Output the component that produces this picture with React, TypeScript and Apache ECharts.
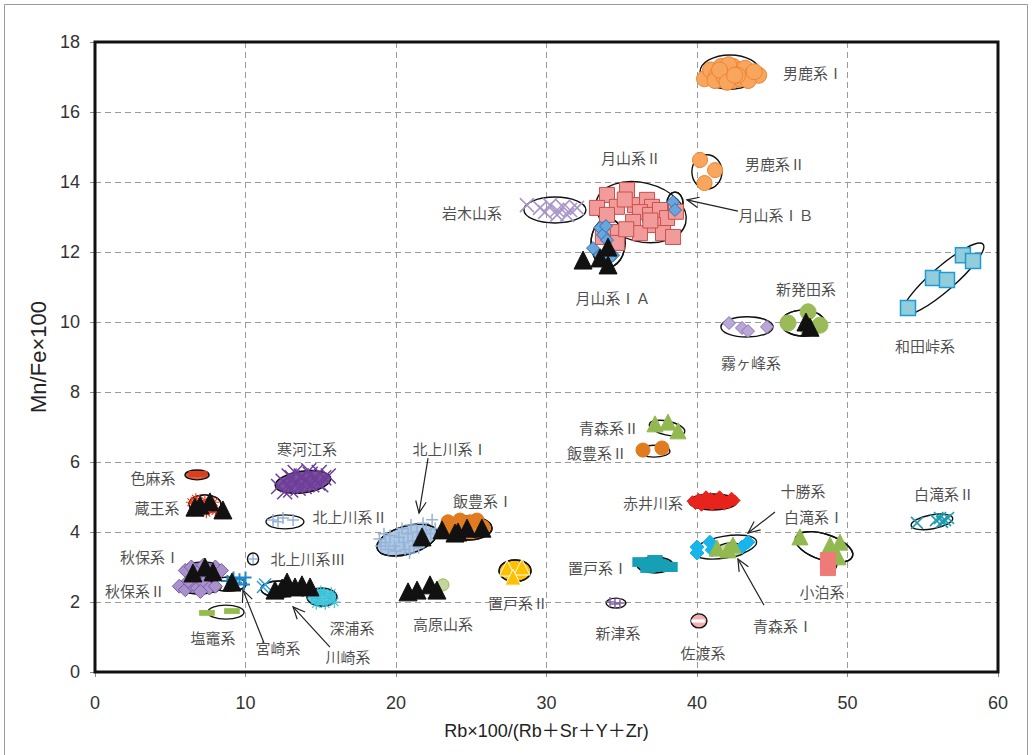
import React, { useEffect, useRef } from "react";
import * as echarts from "echarts";

// ---------- data (x: Rb×100/(Rb+Sr+Y+Zr), y: Mn/Fe×100) ----------
const OGA_I = [[40.5,16.95],[40.9,17.2],[41.3,17.05],[41.6,17.3],[42.0,17.15],[42.4,17.3],[42.8,17.2],[43.2,17.25],[43.6,17.05],[44.1,17.05],[41.2,16.9],[41.8,17.0],[42.4,16.9],[42.9,16.95],[43.4,16.9],[42.1,17.35],[41.5,17.2],[42.7,17.05],[43.8,17.15],[42.0,16.85],[42.5,17.05]];
const OGA_II = [[40.2,14.63],[41.2,14.34],[40.5,13.97]];
const GASSAN_II = [[35.35,13.77],[34.02,13.63],[34.68,13.29],[33.36,13.26],[35.88,13.34],[36.68,13.49],[37.01,13.29],[36.21,13.14],[36.88,13.06],[37.54,13.2],[38.01,12.97],[34.02,13.06],[35.75,12.86],[37.08,12.77],[37.74,12.54],[38.41,12.43],[36.21,12.54],[34.68,12.57],[34.68,12.26],[33.75,12.43],[35.2,13.5],[36.9,12.9],[38.6,13.15],[35.3,12.65]];
const GASSAN_IB = [[38.41,13.43],[38.54,13.2]];
const GASSAN_IA = [[33.56,12.69],[33.75,12.49],[34.02,12.34],[33.09,12.11],[33.56,11.91],[34.42,11.91],[34.22,11.83],[33.95,12.74]];
const IWAKI = [[28.7,13.34],[29.57,13.26],[30.23,13.34],[30.7,13.2],[31.1,13.29],[31.56,13.2],[32.03,13.26],[30.7,13.06],[31.37,13.06],[29.9,13.14]];
const WADA = [[54.02,10.4],[55.68,11.26],[56.61,11.2],[57.67,11.91],[58.34,11.74]];
const SHIBATA = [[46.05,9.97],[47.38,10.29],[48.17,9.91],[47.38,9.83]];
const KIRI = [[42.13,9.97],[42.99,9.83],[43.39,9.74],[44.65,9.86]];
const AOMORI_II = [[37.21,7.09],[38.07,7.14],[38.74,6.89]];
const IIDE_II = [[36.41,6.34],[37.67,6.4]];
const AKAI = [[39.7,4.88],[40.1,4.95],[40.5,4.83],[40.9,4.97],[41.3,4.85],[41.7,4.93],[42.1,4.82],[42.5,4.9],[40.3,4.75],[41.0,4.76],[41.8,4.78],[40.6,5.02],[41.5,5.02],[42.3,4.98],[39.9,4.8]];
const TOKACHI = [[40.0,3.57],[40.0,3.4],[40.86,3.71],[42.99,3.57],[43.39,3.71],[41.0,3.49]];
const AOMORI_I = [[41.33,3.54],[42.39,3.63],[42.06,3.49]];
const SHIRA_I = [[46.84,3.86],[48.84,3.63],[49.5,3.71],[49.37,3.29]];
const KODOMARI = [[48.7,3.2],[48.7,2.97]];
const SHIRA_II = [[54.62,4.26],[56.15,4.4],[56.48,4.34],[56.68,4.4],[56.28,4.29],[55.88,4.34]];
const OKETO_I = [[36.21,3.14],[36.74,2.97],[37.54,3.03],[38.21,3.0],[37.21,3.2]];
const NIITSU = [[34.22,2.0],[34.88,1.97],[34.55,1.94]];
const SADO = [[40.07,1.46]];
const OKETO_II = [[27.38,2.97],[28.37,3.0],[27.77,2.71]];
const IIDE_I = [[23.46,4.29],[24.25,4.34],[25.38,4.34],[25.78,4.14],[24.92,4.29],[23.72,4.0]];
const KITAKAMI_I = [[18.9,3.8],[19.3,3.7],[19.6,3.9],[19.9,3.6],[20.2,3.85],[20.5,3.7],[20.8,3.95],[21.1,3.75],[21.4,4.0],[21.7,3.85],[22.0,4.05],[22.3,3.95],[22.6,4.1],[19.5,3.5],[20.0,3.45],[20.6,3.5],[21.2,3.6],[19.2,3.95],[20.4,4.1],[21.0,4.2],[21.8,4.25],[22.4,4.35],[19.0,3.6],[20.9,3.4],[21.5,3.55]];
const TAKAHARA = [[23.12,2.49]];
const SAGAE = [[12.2,5.3],[12.5,5.45],[12.8,5.35],[13.1,5.55],[13.4,5.4],[13.7,5.6],[14.0,5.45],[14.3,5.65],[14.6,5.5],[14.9,5.7],[15.2,5.55],[15.5,5.6],[12.6,5.15],[13.0,5.2],[13.5,5.25],[13.9,5.3],[14.4,5.35],[14.8,5.4],[13.3,5.7],[14.2,5.75],[12.9,5.6],[15.0,5.35]];
const KITAKAMI_II = [[11.83,4.34],[12.49,4.4],[13.16,4.34],[12.16,4.29]];
const KITAKAMI_III = [[10.5,3.23]];
const SHIKAMA = [[6.6,5.66],[7.1,5.66]];
const ZAO = [[6.4,4.85],[6.7,4.95],[7.0,4.7],[7.3,4.9],[7.6,4.65],[7.9,4.85],[6.6,4.6],[7.4,4.55],[8.0,4.6]];
const AKIU_I = [[6.0,2.9],[6.4,3.0],[6.8,2.85],[7.2,3.05],[7.6,2.9],[8.0,3.0],[8.4,2.9],[6.6,2.75],[7.4,2.75]];
const AKIU_II = [[5.6,2.45],[6.0,2.35],[6.4,2.5],[6.8,2.4],[7.2,2.55],[7.6,2.4],[8.0,2.45],[6.2,2.6],[7.0,2.3]];
const MIYAZAKI = [[8.8,2.6],[9.2,2.7],[9.6,2.65],[10.0,2.7],[9.4,2.55],[9.9,2.5]];
const KAWASAKI = [[11.16,2.43],[11.3,2.5]];
const FUKAURA = [[14.4,2.2],[14.8,2.1],[15.2,2.25],[15.6,2.1],[15.9,2.0],[14.7,1.95],[15.3,1.95],[15.0,2.3],[15.7,2.25]];
const SHIOGAMA = [[7.44,1.69],[9.1,1.74]];
const ARTIFACTS = [[32.43,11.77],[34.09,12.14],[33.56,11.83],[34.09,11.63],[47.24,10.0],[47.51,9.85],[21.73,3.86],[23.06,4.06],[24.12,4.0],[24.72,4.11],[25.71,4.11],[23.92,3.97],[20.8,2.29],[21.4,2.34],[22.26,2.49],[22.72,2.34],[6.98,4.77],[7.64,4.86],[8.5,4.63],[6.64,4.71],[6.51,2.83],[7.31,3.0],[7.84,2.86],[9.1,2.57],[11.96,2.34],[12.76,2.57],[13.29,2.43],[13.75,2.49],[14.29,2.43],[12.43,2.4]];

// ellipse: [name, cx, cy, rx, ry, rotation deg]
const ELLIPSES = [
  ["男鹿系Ⅰ", 42.19, 17.14, 1.99, 0.49, 0],
  ["男鹿系Ⅱ", 40.66, 14.29, 1.0, 0.49, 0],
  ["月山系Ⅱ", 36.28, 13.14, 3.06, 0.84, -14],
  ["月山系ⅠＢ", 38.54, 13.4, 0.53, 0.31, 0],
  ["月山系ⅠＡ", 34.09, 12.26, 1.13, 0.69, 0],
  ["岩木山系", 30.56, 13.2, 2.06, 0.37, 0],
  ["和田峠系", 56.35, 11.23, 3.52, 0.34, 41],
  ["新発田系", 47.04, 9.97, 1.46, 0.37, 0],
  ["霧ヶ峰系", 43.32, 9.86, 1.73, 0.29, 0],
  ["青森系Ⅱ", 38.01, 6.97, 1.2, 0.2, -12],
  ["飯豊系Ⅱ", 37.14, 6.31, 1.06, 0.17, 0],
  ["赤井川系", 41.06, 4.86, 1.59, 0.23, 0],
  ["十勝系", 41.86, 3.57, 2.13, 0.31, 10],
  ["青森系Ⅰ", 42.26, 3.49, 0.93, 0.2, 0],
  ["白滝系Ⅰ", 48.44, 3.57, 1.99, 0.37, -18],
  ["小泊系", 48.84, 3.14, 0.47, 0.29, 0],
  ["白滝系Ⅱ", 55.61, 4.29, 1.4, 0.2, 10],
  ["置戸系Ⅰ", 37.21, 3.06, 1.2, 0.23, 0],
  ["新津系", 34.62, 1.97, 0.66, 0.14, 0],
  ["佐渡系", 40.13, 1.46, 0.53, 0.2, 0],
  ["置戸系Ⅱ", 27.91, 2.89, 1.06, 0.31, 0],
  ["飯豊系Ⅰ", 24.72, 4.11, 1.66, 0.34, 0],
  ["北上川系Ⅰ", 20.73, 3.77, 2.06, 0.4, 16],
  ["寒河江系", 13.82, 5.43, 1.86, 0.31, 8],
  ["北上川系Ⅱ", 12.62, 4.29, 1.26, 0.2, 0],
  ["北上川系Ⅲ", 10.5, 3.23, 0.37, 0.17, 0],
  ["色麻系", 6.78, 5.63, 0.8, 0.14, 0],
  ["蔵王系", 7.31, 4.8, 1.06, 0.26, 0],
  ["秋保系Ⅰ", 7.18, 2.91, 1.46, 0.23, 0],
  ["秋保系Ⅱ", 6.91, 2.43, 1.46, 0.2, 0],
  ["宮崎系", 8.84, 2.51, 1.2, 0.2, 0],
  ["川崎系", 12.23, 2.37, 1.2, 0.23, 0],
  ["深浦系", 15.08, 2.14, 1.0, 0.26, 0],
  ["塩竈系", 8.7, 1.71, 1.2, 0.2, 0],
];

const LABELS = [
  ["男鹿系Ⅰ", 47.71, 17.14], ["男鹿系Ⅱ", 45.18, 14.54], ["月山系Ⅱ", 35.61, 14.69],
  ["岩木山系", 25.05, 13.14], ["月山系ⅠＢ", 45.25, 13.06], ["月山系ⅠＡ", 34.42, 10.71],
  ["新発田系", 47.24, 10.97], ["霧ヶ峰系", 43.59, 8.83], ["和田峠系", 55.15, 9.34],
  ["青森系Ⅱ", 34.15, 7.0], ["飯豊系Ⅱ", 33.36, 6.26], ["赤井川系", 37.08, 4.83],
  ["十勝系", 47.04, 5.2], ["白滝系Ⅰ", 47.77, 4.43], ["置戸系Ⅰ", 33.42, 3.0],
  ["小泊系", 48.31, 2.29], ["新津系", 34.75, 1.14], ["佐渡系", 40.4, 0.57],
  ["青森系Ⅰ", 45.71, 1.34], ["白滝系Ⅱ", 56.41, 5.11], ["北上川系Ⅰ", 23.59, 6.4],
  ["飯豊系Ⅰ", 25.78, 4.91], ["置戸系Ⅱ", 28.11, 2.0], ["高原山系", 23.12, 1.4],
  ["寒河江系", 14.09, 6.4], ["北上川系Ⅱ", 16.94, 4.43], ["北上川系Ⅲ", 14.15, 3.23],
  ["色麻系", 3.85, 5.57], ["蔵王系", 4.12, 4.69], ["秋保系Ⅰ", 3.65, 3.29],
  ["秋保系Ⅱ", 2.66, 2.34], ["塩竈系", 7.84, 1.0], ["宮崎系", 12.16, 0.69],
  ["川崎系", 16.81, 0.43], ["深浦系", 17.08, 1.26],
];

// arrows: [fromX, fromY, toX, toY]
const ARROWS = [
  [22.13, 6.11, 21.53, 4.54],
  [42.72, 13.17, 39.33, 13.49],
  [45.18, 4.57, 43.39, 3.97],
  [44.45, 1.91, 42.72, 3.23],
  [11.23, 0.83, 9.83, 2.34],
  [15.61, 0.71, 13.16, 1.86],
];

// ---------- styles ----------
const X_MARK = "path://M0,0L10,10M10,0L0,10";
const PLUS = "path://M5,0L5,10M0,5L10,5";
const STAR = "path://M5,0L5,10M0,5L10,5M1.5,1.5L8.5,8.5M8.5,1.5L1.5,8.5";
const ELLIPSE_FILL: Record<string, string> = {
  "置戸系Ⅰ": "#17A1B6",
  "青森系Ⅰ": "rgba(190,212,140,0.9)",
  "佐渡系": "#F2B0B0",
  "北上川系Ⅰ": "rgba(160,190,225,0.85)",
  "寒河江系": "rgba(110,62,152,0.9)",
  "秋保系Ⅰ": "rgba(172,150,206,0.85)",
  "秋保系Ⅱ": "rgba(172,150,206,0.85)",
  "赤井川系": "#E8231C",
  "深浦系": "rgba(60,195,218,0.85)",
  "置戸系Ⅱ": "#FFC000",
  "色麻系": "rgba(217,65,30,0.85)",
  "飯豊系Ⅰ": "rgba(224,123,31,0.9)",
};

function sc(name: string, data: number[][], symbol: string, size: any, color: string, border?: string, bw = 1) {
  return {
    type: "scatter",
    name,
    data,
    symbol,
    symbolSize: size,
    itemStyle: { color, borderColor: border || color, borderWidth: bw, opacity: 1 },
    emphasis: { disabled: true },
    silent: true,
  };
}

function ellipseItem(params: any, api: any, fill: (n: string) => string) {
  const c = api.coord([api.value(1), api.value(2)]);
  const s = api.size([api.value(3), api.value(4)]);
  return {
    type: "ellipse",
    x: c[0], y: c[1],
    rotation: (api.value(5) * Math.PI) / 180,
    shape: { cx: 0, cy: 0, rx: s[0], ry: s[1] },
    style: { fill: fill(String(api.value(0))), stroke: "#111", lineWidth: 1.4 },
  };
}

export default function App() {
  const ref = useRef<HTMLDivElement>(null);
  useEffect(() => {
    document.body.style.margin = "0";
    const chart = echarts.init(ref.current!, null, { renderer: "svg" });
    const axisLabel = { fontFamily: "Liberation Sans, Arial, sans-serif", fontSize: 18, color: "#333" };
    const outline = ["小泊系", "白滝系Ⅰ", "月山系ⅠＢ", "月山系ⅠＡ", "新発田系", "飯豊系Ⅰ", "北上川系Ⅰ", "置戸系Ⅱ", "蔵王系", "秋保系Ⅰ", "秋保系Ⅱ", "川崎系", "宮崎系"];
    const option: any = {
      animation: false,
      backgroundColor: "#fff",
      graphic: [
        { type: "rect", shape: { x: 4.5, y: 4.5, width: 1023, height: 770 }, style: { fill: "none", stroke: "#9a9a9a", lineWidth: 1 }, silent: true, z: -10 },
        { type: "rect", shape: { x: 95, y: 42, width: 903, height: 630 }, style: { fill: "none", stroke: "#111", lineWidth: 3 }, silent: true, z: 100 },
      ],
      grid: { left: 95, top: 42, right: 35, bottom: 83, show: false },
      xAxis: {
        type: "value", min: 0, max: 60, interval: 10,
        name: "Rb×100/(Rb＋Sr＋Y＋Zr)", nameLocation: "middle", nameGap: 50,
        nameTextStyle: { fontFamily: "Liberation Sans, Noto Sans CJK JP, sans-serif", fontSize: 18, color: "#222" },
        axisLine: { show: false },
        axisTick: { show: true, length: 5, lineStyle: { color: "#888" } },
        axisLabel: { ...axisLabel, margin: 22 },
        splitLine: { show: true, lineStyle: { color: "#9a9a9a", type: [6, 4], width: 1 } },
      },
      yAxis: {
        type: "value", min: 0, max: 18, interval: 2,
        name: "Mn/Fe×100", nameLocation: "middle", nameGap: 46, nameRotate: 90,
        nameTextStyle: { fontFamily: "Liberation Sans, Arial, sans-serif", fontSize: 22, color: "#222" },
        axisLine: { show: false },
        axisTick: { show: true, length: 5, lineStyle: { color: "#888" } },
        axisLabel: { ...axisLabel, margin: 15 },
        splitLine: { show: true, lineStyle: { color: "#9a9a9a", type: [6, 4], width: 1 } },
      },
      series: [
        sc("男鹿系Ⅰ", OGA_I, "circle", 16, "#F8A55E", "#EE8430"),
        sc("男鹿系Ⅱ", OGA_II, "circle", 15, "#F8A55E", "#EE8430"),
        sc("月山系Ⅱ", GASSAN_II, "rect", 15, "#F19C9A", "#C9504D"),
        sc("岩木山系", IWAKI, X_MARK, 14, "#A995C9", "#A995C9", 1.5),
        sc("和田峠系", WADA, "rect", 15, "#92CDDC", "#1E9BD7", 1.5),
        sc("新発田系", SHIBATA, "circle", 16, "#9BBB59", "#9BBB59"),
        sc("霧ヶ峰系", KIRI, "diamond", 13, "#B9A7D6", "#8D72B8"),
        sc("青森系Ⅱ", AOMORI_II, "triangle", 16, "#92B850"),
        sc("飯豊系Ⅱ", IIDE_II, "circle", 14, "#E07B1F"),
        sc("赤井川系", AKAI, "diamond", 11, "#E8231C"),
        sc("十勝系", TOKACHI, "diamond", 14, "#18B4EC"),
        sc("置戸系Ⅰ", OKETO_I, "rect", [14, 9], "#15A0B6"),
        sc("新津系", NIITSU, PLUS, 10, "#8064A2", "#8064A2", 1.5),
        sc("北上川系Ⅰ", KITAKAMI_I, PLUS, 12, "#95B3D7", "#95B3D7", 1.5),
        sc("高原山系", TAKAHARA, "circle", 12, "#C3D69B", "#98B95A"),
        sc("寒河江系", SAGAE, X_MARK, 15, "#6E3E98", "#6E3E98", 1.5),
        sc("北上川系Ⅱ", KITAKAMI_II, PLUS, 12, "#95B3D7", "#95B3D7", 1.5),
        sc("北上川系Ⅲ", KITAKAMI_III, PLUS, 10, "#95B3D7", "#95B3D7", 1.5),
        sc("色麻系", SHIKAMA, "rect", [10, 5], "#D9411E"),
        sc("蔵王系", ZAO, STAR, 11, "#F0401E", "#F0401E", 1.2),
        sc("秋保系Ⅰ", AKIU_I, "diamond", 14, "#A991CC", "#7B5CA8"),
        sc("秋保系Ⅱ", AKIU_II, "diamond", 14, "#A991CC", "#7B5CA8"),
        sc("深浦系", FUKAURA, STAR, 12, "#3CC3DA", "#3CC3DA", 1.2),
        sc("塩竈系", SHIOGAMA, "rect", [14, 5], "#94BB4E"),
        {
          type: "custom",
          name: "ellipses",
          silent: true,
          clip: false,
          encode: { x: 1, y: 2 },
          data: ELLIPSES,
          renderItem: (params: any, api: any) => ellipseItem(params, api, (n) => ELLIPSE_FILL[n] || "none"),
        },
        sc("飯豊系Ⅰ", IIDE_I, "circle", 14, "#E07B1F"),
        sc("置戸系Ⅱ", OKETO_II, "triangle", 16, "#FFC000", "#ffffff", 1),
        sc("月山系ⅠＢ", GASSAN_IB, "diamond", 13, "#6AA5DB", "#2F6FB0"),
        sc("月山系ⅠＡ", GASSAN_IA, "diamond", 13, "#6AA5DB", "#2F6FB0"),
        sc("青森系Ⅰ", AOMORI_I, "triangle", 16, "#92B850"),
        sc("白滝系Ⅰ", SHIRA_I, "triangle", 16, "#92B850"),
        sc("小泊系", KODOMARI, "rect", 15, "#EE7B78"),
        sc("白滝系Ⅱ", SHIRA_II, X_MARK, 12, "#1C9AAE", "#1C9AAE", 1.5),
        sc("宮崎系", MIYAZAKI, PLUS, 12, "#1E88C8", "#1E88C8", 2),
        sc("川崎系", KAWASAKI, X_MARK, 12, "#2E9FDA", "#2E9FDA", 1.5),
        sc("佐渡系", SADO, "rect", [9, 2], "#ffffff"),
        sc("遺物", ARTIFACTS, "triangle", 18, "#111111"),
        {
          type: "custom",
          name: "ellipses2",
          silent: true,
          clip: false,
          encode: { x: 1, y: 2 },
          data: ELLIPSES.filter((e) => outline.includes(e[0] as string)),
          renderItem: (params: any, api: any) => ellipseItem(params, api, () => "none"),
        },
        {
          type: "custom",
          name: "arrows",
          silent: true,
          clip: false,
          encode: { x: [0, 2], y: [1, 3] },
          data: ARROWS,
          renderItem: (params: any, api: any) => {
            const p1 = api.coord([api.value(0), api.value(1)]);
            const p2 = api.coord([api.value(2), api.value(3)]);
            const ang = Math.atan2(p2[1] - p1[1], p2[0] - p1[0]);
            const L = 13, a = 0.42;
            const h1 = [p2[0] - L * Math.cos(ang - a), p2[1] - L * Math.sin(ang - a)];
            const h2 = [p2[0] - L * Math.cos(ang + a), p2[1] - L * Math.sin(ang + a)];
            return {
              type: "group",
              children: [
                { type: "line", shape: { x1: p1[0], y1: p1[1], x2: p2[0], y2: p2[1] }, style: { stroke: "#222", lineWidth: 1.2 } },
                { type: "polyline", shape: { points: [h1, p2, h2] }, style: { stroke: "#222", fill: "none", lineWidth: 1.2 } },
              ],
            };
          },
        },
        {
          type: "scatter",
          name: "labels",
          silent: true,
          symbolSize: 0,
          data: LABELS.map((l) => ({ name: l[0], value: [l[1], l[2]] })),
          label: {
            show: true, position: "inside", formatter: "{b}",
            fontFamily: "Noto Sans CJK JP, sans-serif", fontSize: 15, color: "#1e1e1e",
          },
          emphasis: { disabled: true },
        },
      ],
    };
    chart.setOption(option);
    return () => chart.dispose();
  }, []);
  return <div ref={ref} style={{ width: 1033, height: 755 }} />;
}
